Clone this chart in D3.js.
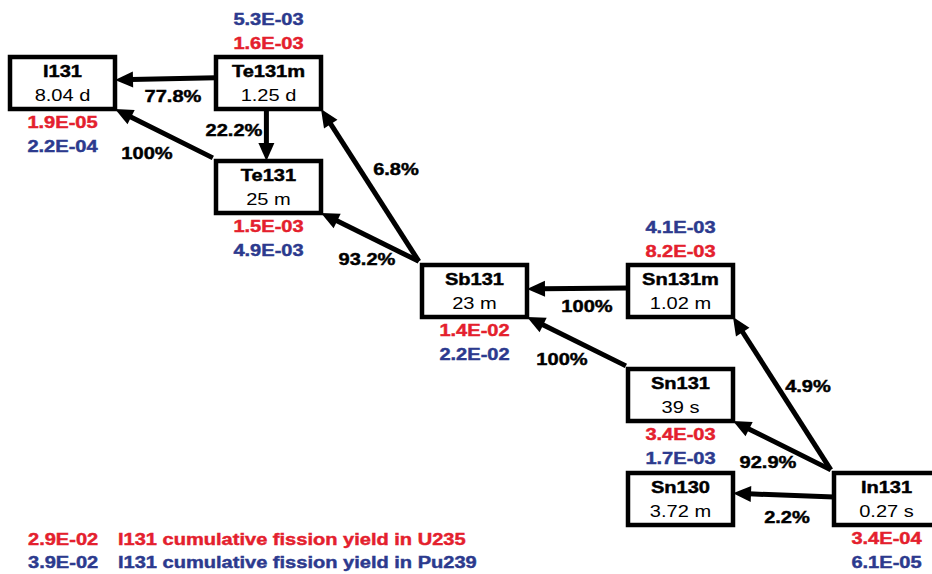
<!DOCTYPE html>
<html>
<head>
<meta charset="utf-8">
<script src="https://cdn.jsdelivr.net/npm/d3@7"></script>
<style>
  html, body { margin: 0; padding: 0; background: #ffffff; }
  svg { display: block; }
  text { font-family: "Liberation Sans", Arial, sans-serif; }
</style>
</head>
<body>
<svg id="chart" width="932" height="574"></svg>
<script>
// ---------- DATA ----------
const nuclides   = ["I131", "Te131m", "Te131", "Sb131", "Sn131m", "Sn131", "Sn130", "In131"];
const halfLives  = ["8.04 d", "1.25 d", "25 m", "23 m", "1.02 m", "39 s", "3.72 m", "0.27 s"];
const yieldU235  = ["1.9E-05", "1.6E-03", "1.5E-03", "1.4E-02", "8.2E-03", "3.4E-03", null, "3.4E-04"];
const yieldPu239 = ["2.2E-04", "5.3E-03", "4.9E-03", "2.2E-02", "4.1E-03", "1.7E-03", null, "6.1E-05"];
const decaySources  = ["Te131m", "Te131", "Te131m", "Sb131", "Sb131", "Sn131m", "Sn131", "In131", "In131", "In131"];
const decayTargets  = ["I131", "I131", "Te131", "Te131m", "Te131", "Sb131", "Sb131", "Sn131m", "Sn131", "Sn130"];
const branchLabels  = ["77.8%", "100%", "22.2%", "6.8%", "93.2%", "100%", "100%", "4.9%", "92.9%", "2.2%"];
const legendValues  = ["2.9E-02", "3.9E-02"];
const legendLabels  = ["I131 cumulative fission yield in U235", "I131 cumulative fission yield in Pu239"];

// ---------- LAYOUT ----------
const RED = "#e4202d", BLUE = "#2c3a8e";
const gridCol = [0, 1, 1, 2, 3, 3, 3, 4];
const gridRow = [0, 0, 1, 2, 2, 3, 4, 4];
const yieldsAbove = [false, true, false, false, true, false, false, false];
// anchor fractions on source / target boxes (0..1 of width/height)
const edgeAnchors = [
  [[0, 0.40], [1, 0.44]],
  [[-0.03, -0.06], [1, 1]],
  [[0.48, 1], [0.48, 0]],
  [[-0.03, -0.07], [1, 1]],
  [[-0.03, -0.07], [1, 1]],
  [[0, 0.44], [1, 0.46]],
  [[-0.02, -0.06], [1, 1]],
  [[-0.03, -0.06], [1, 1]],
  [[-0.03, -0.06], [1, 1]],
  [[0, 0.46], [1, 0.39]]
];
const labelPos = [[173, 102], [147, 159], [234, 136], [396, 175], [367, 265], [587, 312], [562, 365], [808, 392], [768, 468], [787, 523]];

const BOX_W = 105, BOX_H = 52, STRETCH = 1.18, FS = 17;

const x = d3.scaleLinear().domain([0, 4]).range([62.5, 886.5]);   // box centre x
const y = d3.scaleLinear().domain([0, 4]).range([57, 473]);       // box top y

const svg = d3.select("#chart");
svg.append("rect").attr("width", 932).attr("height", 574).attr("fill", "#fff");

function stretchedText(parent, tx, ty, str, opts) {
  const g = parent.append("g").attr("transform", `translate(${tx},${ty}) scale(${STRETCH},1)`);
  const color = opts.color || "#000";
  g.append("text")
    .attr("x", 0).attr("y", 0)
    .attr("text-anchor", opts.anchor || "middle")
    .attr("font-size", FS)
    .attr("font-weight", opts.bold ? "bold" : "normal")
    .attr("fill", color)
    .attr("stroke", opts.bold ? color : "none")
    .attr("stroke-width", opts.bold ? 0.45 : 0)
    .text(str);
  return g;
}

const nodes = nuclides.map((n, i) => ({
  name: n, hl: halfLives[i], u: yieldU235[i], p: yieldPu239[i],
  cx: x(gridCol[i]), top: y(gridRow[i]), above: yieldsAbove[i]
}));
const byName = new Map(nodes.map(d => [d.name, d]));

// ---------- ARROWS ----------
const arrowG = svg.append("g");
decaySources.forEach((s, i) => {
  const a = byName.get(s), b = byName.get(decayTargets[i]);
  const [sf, tf] = edgeAnchors[i];
  const sx = a.cx - BOX_W / 2 + sf[0] * BOX_W, sy = a.top + sf[1] * BOX_H;
  const tx = b.cx - BOX_W / 2 + tf[0] * BOX_W, ty = b.top + tf[1] * BOX_H;
  const dx = tx - sx, dy = ty - sy, len = Math.hypot(dx, dy);
  const ux = dx / len, uy = dy / len, px = -uy, py = ux;
  const L = 18, W = 8;
  const bx = tx - ux * L, by = ty - uy * L;
  arrowG.append("line")
    .attr("x1", sx).attr("y1", sy)
    .attr("x2", tx - ux * (L - 2)).attr("y2", ty - uy * (L - 2))
    .attr("stroke", "#000").attr("stroke-width", 5);
  arrowG.append("path")
    .attr("d", `M${tx},${ty}L${bx + px * W},${by + py * W}L${bx - px * W},${by - py * W}Z`)
    .attr("fill", "#000");
  stretchedText(arrowG, labelPos[i][0], labelPos[i][1], branchLabels[i], { bold: true });
});

// ---------- BOXES ----------
const boxG = svg.append("g");
nodes.forEach(d => {
  boxG.append("rect")
    .attr("x", d.cx - BOX_W / 2).attr("y", d.top)
    .attr("width", BOX_W).attr("height", BOX_H)
    .attr("fill", "#fff").attr("stroke", "#000").attr("stroke-width", 4.5);
  stretchedText(boxG, d.cx, d.top + 20, d.name, { bold: true });
  stretchedText(boxG, d.cx, d.top + 44, d.hl, { bold: false });
  if (d.u) {
    if (d.above) {
      stretchedText(boxG, d.cx, d.top - 32, d.p, { bold: true, color: BLUE });
      stretchedText(boxG, d.cx, d.top - 8, d.u, { bold: true, color: RED });
    } else {
      stretchedText(boxG, d.cx, d.top + BOX_H + 19, d.u, { bold: true, color: RED });
      stretchedText(boxG, d.cx, d.top + BOX_H + 43, d.p, { bold: true, color: BLUE });
    }
  }
});

// ---------- LEGEND ----------
const legColors = [RED, BLUE];
legendValues.forEach((v, i) => {
  const ly = 545 + i * 23;
  stretchedText(svg, 28, ly, v, { bold: true, color: legColors[i], anchor: "start" });
  stretchedText(svg, 118, ly, legendLabels[i], { bold: true, color: legColors[i], anchor: "start" });
});
</script>
</body>
</html>
